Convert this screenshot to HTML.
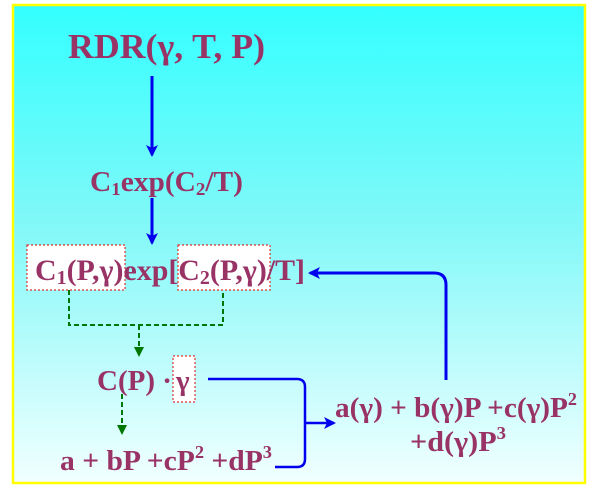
<!DOCTYPE html>
<html><head><style>
html,body{margin:0;padding:0;background:#fff;}
svg{display:block;}
text{font-family:"Liberation Serif",serif;font-weight:bold;fill:#993366;}
</style></head><body>
<svg width="600" height="497" viewBox="0 0 600 497" xmlns="http://www.w3.org/2000/svg">
<defs>
<linearGradient id="bg" x1="0" y1="0" x2="0" y2="1">
<stop offset="0" stop-color="#33ffff"/>
<stop offset="0.45" stop-color="#80f8f8"/>
<stop offset="1" stop-color="#f2ffff"/>
</linearGradient>
<marker id="ab" markerWidth="14" markerHeight="14" refX="10" refY="6" orient="auto" markerUnits="userSpaceOnUse"><path d="M0,0 L12,6 L0,12 L3,6 z" fill="#0000ee"/></marker>
<marker id="ag" markerWidth="12" markerHeight="12" refX="8" refY="5" orient="auto" markerUnits="userSpaceOnUse"><path d="M0,0 L10,5 L0,10 z" fill="#007700"/></marker>
</defs>
<rect x="13" y="5" width="572" height="478" fill="url(#bg)" stroke="#ffff00" stroke-width="2.5"/>

<text x="68" y="58" font-size="35" textLength="197" lengthAdjust="spacingAndGlyphs">RDR(γ, T, P)</text>
<line x1="152" y1="76" x2="152" y2="155" stroke="#0000ee" stroke-width="3" marker-end="url(#ab)"/>

<text x="90" y="191" font-size="28" textLength="153" lengthAdjust="spacingAndGlyphs">C<tspan font-size="18" dy="4">1</tspan><tspan dy="-4">exp(C</tspan><tspan font-size="18" dy="4">2</tspan><tspan dy="-4">/T)</tspan></text>
<line x1="152" y1="198" x2="152" y2="243" stroke="#0000ee" stroke-width="3" marker-end="url(#ab)"/>

<rect x="27" y="245" width="98" height="45" fill="#fff" stroke="#dd3333" stroke-width="1.2" stroke-dasharray="2,2"/>
<rect x="178" y="245" width="92" height="45" fill="#fff" stroke="#dd3333" stroke-width="1.2" stroke-dasharray="2,2"/>
<text x="35" y="280" font-size="30" textLength="270" lengthAdjust="spacingAndGlyphs">C<tspan font-size="20" dy="4">1</tspan><tspan dy="-4">(P,γ)exp[C</tspan><tspan font-size="20" dy="4">2</tspan><tspan dy="-4">(P,γ)/T]</tspan></text>

<path d="M69,290 V325 H223 V290" fill="none" stroke="#007700" stroke-width="2" stroke-dasharray="5,3"/>
<line x1="139" y1="325" x2="139" y2="355" stroke="#007700" stroke-width="2" stroke-dasharray="5,3" marker-end="url(#ag)"/>

<rect x="173" y="356" width="22" height="46" fill="#fff" stroke="#dd3333" stroke-width="1.2" stroke-dasharray="2,2"/>
<text x="97" y="390" font-size="29">C(P) ·</text>
<text x="176" y="390" font-size="29">γ</text>

<line x1="122" y1="394" x2="122" y2="433" stroke="#007700" stroke-width="2" stroke-dasharray="5,3" marker-end="url(#ag)"/>
<text x="60" y="470" font-size="29" textLength="212" lengthAdjust="spacingAndGlyphs">a + bP +cP<tspan font-size="18" dy="-12">2</tspan><tspan dy="12"> +dP</tspan><tspan font-size="18" dy="-12">3</tspan></text>

<path d="M208,379 H297 Q305,379 305,387 V459 Q305,467 297,467 H275" fill="none" stroke="#0000ee" stroke-width="2.5"/>
<line x1="305" y1="423" x2="334" y2="423" stroke="#0000ee" stroke-width="2.5" marker-end="url(#ab)"/>

<text x="335" y="417" font-size="29" textLength="242" lengthAdjust="spacingAndGlyphs">a(γ) + b(γ)P +c(γ)P<tspan font-size="18" dy="-12">2</tspan></text>
<text x="410" y="451" font-size="29" textLength="96" lengthAdjust="spacingAndGlyphs">+d(γ)P<tspan font-size="18" dy="-12">3</tspan></text>

<path d="M446,380 V285 Q446,273 434,273 H310" fill="none" stroke="#0000ee" stroke-width="3" marker-end="url(#ab)"/>
</svg>
</body></html>
